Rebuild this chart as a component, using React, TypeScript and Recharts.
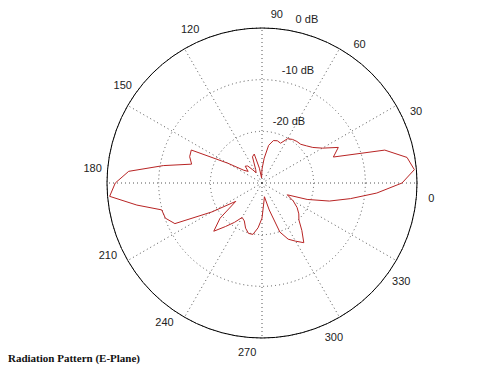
import { RadarChart, Radar, PolarGrid, PolarAngleAxis, PolarRadiusAxis } from "recharts";

// angle in degrees (counter-clockwise from 0 = right), gain in dB
const angles = [
  0, 5, 10, 15, 20, 25, 30, 35, 40, 45, 50, 55, 60, 65, 70, 75, 80, 85,
  90, 95, 100, 105, 110, 115, 120, 125, 130, 135, 140, 145, 150, 155, 160, 165, 170, 175,
  180, 185, 190, 195, 200, 205, 210, 215, 220, 225, 230, 235, 240, 245, 250, 255, 260, 265,
  270, 275, 280, 285, 290, 295, 300, 305, 310, 315, 320, 325, 330, 335, 340, 345, 350, 355,
];
const gainDb = [
  -0.4, -1.5, -5.4, -15.3, -13.7, -16.5, -18.0, -18.8, -19.4, -19.5, -19.7, -20.1, -21.5, -21.3, -21.5, -22.6, -25.2, -27.3,
  -29.0, -27.1, -24.2, -24.6, -27.1, -27.7, -26.9, -25.7, -25.4, -26.5, -25.7, -22.3, -14.9, -15.1, -15.9, -10.6, -4.1, -1.6,
  -0.4, -5.4, -9.9, -10.1, -11.4, -18.8, -23.8, -19.4, -16.8, -19.0, -20.7, -22.3, -21.9, -20.7, -19.9, -19.9, -21.3, -23.2,
  -26.1, -27.3, -24.6, -19.9, -18.0, -17.0, -15.9, -18.0, -19.9, -20.7, -21.7, -23.0, -24.6, -20.7, -16.5, -12.6, -7.7, -2.9,
];
const radiusTicks = [-30, -20, -10, 0];
const spokeAngles = [0, 30, 60, 90, 120, 150, 180, 210, 240, 270, 300, 330];

const data = angles.map((a, i) => ({ angle: a, db: gainDb[i] }));

const CX = 262;
const CY = 183;
const R = 155;
const LABEL_R = 170;
const font = "'Liberation Sans', Arial, sans-serif";

const AngleTick = (props: any) => {
  const { x, y, payload } = props;
  const v = Number(payload.value);
  if (v % 30 !== 0) return <g />;
  const dx = x - CX;
  const dy = y - CY;
  const d = Math.hypot(dx, dy) || 1;
  return (
    <text
      x={CX + (dx / d) * LABEL_R}
      y={CY + (dy / d) * LABEL_R}
      textAnchor="middle"
      dominantBaseline="central"
      fontSize={11}
      fontFamily={font}
      fill="#222"
    >
      {v}
    </text>
  );
};

const RadiusTick = (props: any) => {
  const { x, y, payload } = props;
  if (payload.value === -30) return <g />;
  return (
    <text
      x={x + 18}
      y={y - 11}
      textAnchor="middle"
      dominantBaseline="central"
      fontSize={11}
      fontFamily={font}
      fill="#222"
    >
      {`${payload.value} dB`}
    </text>
  );
};

export default function App() {
  return (
    <div style={{ position: "absolute", left: 0, top: 0, width: 500, height: 374, background: "#fff" }}>
      <RadarChart
        width={500}
        height={374}
        data={data}
        cx={CX}
        cy={CY}
        outerRadius={R}
        startAngle={0}
        endAngle={360}
        margin={{ top: 0, right: 0, bottom: 0, left: 0 }}
      >
        <PolarGrid
          gridType="circle"
          polarAngles={spokeAngles}
          stroke="#555"
          strokeDasharray="1 3"
        />
        <PolarAngleAxis
          dataKey="angle"
          axisLine={{ stroke: "#000", strokeWidth: 1 }}
          tickLine={false}
          tick={AngleTick}
        />
        <PolarRadiusAxis
          angle={80}
          type="number"
          domain={[-30, 0]}
          ticks={radiusTicks}
          tickCount={4}
          axisLine={false}
          tickLine={false}
          tick={RadiusTick}
        />
        <Radar
          dataKey="db"
          stroke="#b82424"
          strokeWidth={1}
          fill="none"
          fillOpacity={0}
          dot={false}
          isAnimationActive={false}
        />
      </RadarChart>
      <div
        style={{
          position: "absolute",
          left: 8,
          top: 352,
          fontFamily: "'Liberation Serif', 'Times New Roman', serif",
          fontWeight: "bold",
          fontSize: 11,
          color: "#111",
        }}
      >
        Radiation Pattern (E-Plane)
      </div>
    </div>
  );
}
